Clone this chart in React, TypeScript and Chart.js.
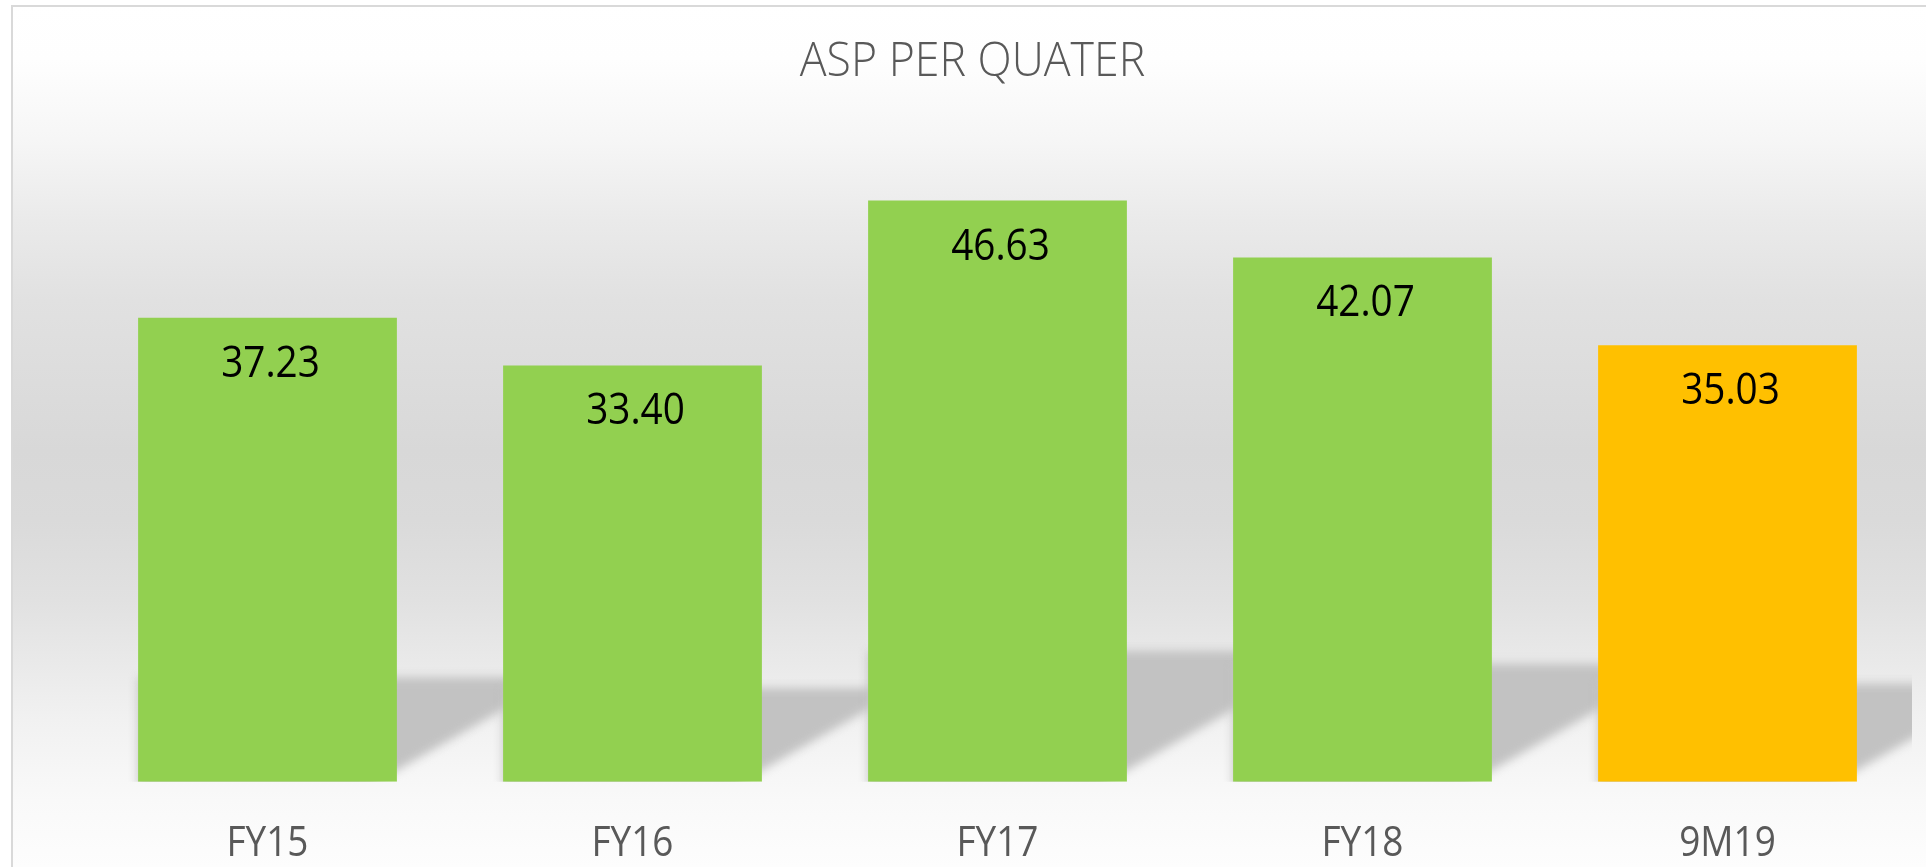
import React, { useEffect, useRef } from 'react';
import { Chart, registerables } from 'chart.js';

Chart.register(...registerables);

// ---- data ----
const categories = ['FY15', 'FY16', 'FY17', 'FY18', '9M19'];
const aspValues = [37.23, 33.4, 46.63, 42.07, 35.03];
const barColors = ['#92D050', '#92D050', '#92D050', '#92D050', '#FFC000'];
const chartTitle = 'ASP PER QUATER';
const yMin = 0;
const yMax = 50;

// horizontal squeeze per font size (emulates the narrow reference typeface)
const SQUEEZE: Record<string, number> = { '48px': 0.93, '42px': 0.88, '43px': 0.9 };

function sxFor(font: string): number {
  for (const k of Object.keys(SQUEEZE)) if (font.includes(k)) return SQUEEZE[k];
  return 1;
}

const squeezePlugin = {
  id: 'squeezeText',
  beforeDraw(chart: any) {
    const ctx: any = chart.ctx;
    const orig = Object.getPrototypeOf(ctx).fillText;
    ctx.fillText = function (text: string, x: number, y: number) {
      const sx = sxFor(this.font);
      if (sx === 1) return orig.call(this, text, x, y);
      this.save();
      this.translate(x, y);
      this.scale(sx, 1);
      orig.call(this, text, 0, 0);
      this.restore();
    };
  },
  afterDraw(chart: any) {
    delete (chart.ctx as any).fillText;
  },
};

const backgroundPlugin = {
  id: 'bgFrame',
  beforeDraw(chart: any) {
    const ctx = chart.ctx;
    const w = chart.width;
    const h = chart.height;
    ctx.save();
    ctx.fillStyle = '#ffffff';
    ctx.fillRect(0, 0, w, h);
    const g = ctx.createLinearGradient(0, 0, 0, h);
    const stops: [number, string][] = [
      [0, '#ffffff'],
      [0.069, '#fefefe'],
      [0.161, '#f6f6f6'],
      [0.254, '#eaeaea'],
      [0.346, '#e1e1e1'],
      [0.519, '#d8d8d8'],
      [0.6, '#dadada'],
      [0.692, '#e1e1e1'],
      [0.761, '#e9e9e9'],
      [0.83, '#f1f1f1'],
      [0.923, '#f9f9f9'],
      [1, '#fdfdfd'],
    ];
    stops.forEach(([o, c]) => g.addColorStop(o, c));
    ctx.fillStyle = g;
    ctx.fillRect(13, 7, w - 13, h - 7);
    ctx.fillStyle = '#d9d9d9';
    ctx.fillRect(11, 5, 2, h - 5);
    ctx.fillRect(11, 5, w - 11, 2);
    ctx.restore();
  },
};

const shadowPlugin = {
  id: 'barShadow',
  beforeDatasetsDraw(chart: any) {
    const ctx = chart.ctx;
    const area = chart.chartArea;
    const meta = chart.getDatasetMeta(0);
    ctx.save();
    ctx.beginPath();
    ctx.rect(area.left, area.top, area.right - area.left + 2, area.bottom - area.top);
    ctx.clip();
    ctx.filter = 'blur(5px)';
    ctx.fillStyle = '#c2c2c2';
    meta.data.forEach((el: any) => {
      const { x, y, base, width } = el.getProps(['x', 'y', 'base', 'width'], true);
      const l = x - width / 2;
      const r = x + width / 2;
      const hs = (base - y) * 0.225;
      const bx = r - 20;
      ctx.beginPath();
      ctx.moveTo(l, base + 6);
      ctx.lineTo(bx - 6 * 1.75, base + 6);
      ctx.lineTo(bx + hs * 1.75, base - hs);
      ctx.lineTo(l, base - hs);
      ctx.closePath();
      ctx.fill();
    });
    ctx.restore();
  },
};

const valueLabelPlugin = {
  id: 'valueLabels',
  afterDatasetsDraw(chart: any) {
    const ctx = chart.ctx;
    const meta = chart.getDatasetMeta(0);
    ctx.save();
    ctx.font = '43px "Open Sans"';
    ctx.fillStyle = '#000000';
    ctx.textAlign = 'center';
    ctx.textBaseline = 'alphabetic';
    meta.data.forEach((el: any, i: number) => {
      const { x, y } = el.getProps(['x', 'y'], true);
      ctx.fillText(aspValues[i].toFixed(2), x + 3, y + 59);
    });
    ctx.restore();
  },
};

export default function App() {
  const ref = useRef<HTMLCanvasElement | null>(null);
  useEffect(() => {
    if (!ref.current) return;
    const chart = new Chart(ref.current, {
      type: 'bar',
      data: {
        labels: categories,
        datasets: [
          {
            label: 'ASP',
            data: aspValues,
            backgroundColor: barColors,
            borderWidth: 0,
            barPercentage: 0.709,
            categoryPercentage: 1,
          },
        ],
      },
      options: {
        animation: false,
        responsive: false,
        maintainAspectRatio: false,
        layout: { padding: { left: 35, right: 16, top: 0, bottom: 0 } },
        plugins: {
          legend: { display: false },
          tooltip: { enabled: false },
          title: {
            display: true,
            text: chartTitle,
            color: '#595959',
            font: { family: '"Open Sans"', size: 48, weight: '300' as any },
            padding: { top: 34, bottom: 67 },
          },
        },
        scales: {
          x: {
            grid: { display: false, drawTicks: false },
            border: { display: false },
            ticks: {
              color: '#595959',
              font: { family: '"Open Sans"', size: 42 },
              padding: 37,
              maxRotation: 0,
              autoSkip: false,
            },
            afterFit: (s: any) => {
              s.height = 85.3;
            },
          },
          y: {
            min: yMin,
            max: yMax,
            grid: { display: false },
            border: { display: false },
            ticks: { display: false },
            afterFit: (s: any) => {
              s.width = 50;
            },
          },
        },
      },
      plugins: [squeezePlugin, backgroundPlugin, shadowPlugin, valueLabelPlugin],
    });
    return () => chart.destroy();
  }, []);
  return (
    <div style={{ position: 'fixed', left: 0, top: 0, width: 1926, height: 867 }}>
      <canvas ref={ref} width={1926} height={867} style={{ display: 'block', width: 1926, height: 867 }} />
    </div>
  );
}
